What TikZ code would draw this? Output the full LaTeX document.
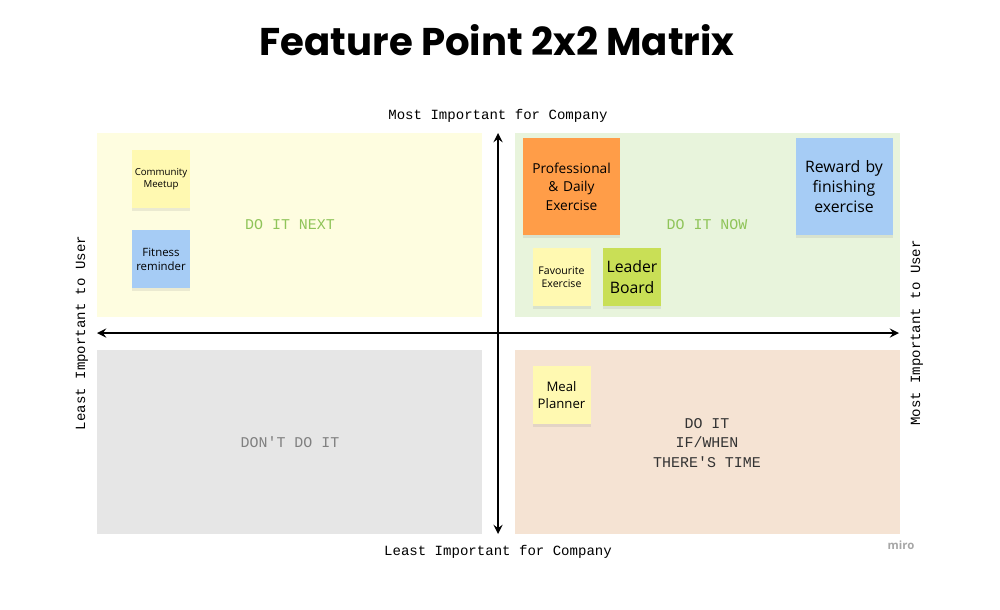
\documentclass[tikz,border=0pt]{standalone}
\usepackage{fontspec}
\setmainfont{Open Sans}
\newfontfamily\titlefont{Poppins}
\newfontfamily\monofont{Liberation Mono}
\usetikzlibrary{shadows}
\definecolor{qyellow}{HTML}{FEFDE0}
\definecolor{qgreen}{HTML}{E8F4DC}
\definecolor{qgray}{HTML}{E6E6E6}
\definecolor{qpeach}{HTML}{F5E3D3}
\definecolor{syellow}{HTML}{FFF9B1}
\definecolor{sblue}{HTML}{A6CCF5}
\definecolor{sorange}{HTML}{FF9D48}
\definecolor{sgreen}{HTML}{C9DF56}
\definecolor{lgreen}{HTML}{8FC459}
\begin{document}
\begin{tikzpicture}[x=0.02cm, y=-0.02cm,
  quad/.style={draw=none, minimum width=385*0.02cm, minimum height=184*0.02cm, inner sep=0},
  sticky/.style={minimum size=58*0.02cm, inner sep=1pt, align=center, text width=54*0.02cm,
    drop shadow={opacity=0.15, shadow xshift=0pt, shadow yshift=-1.5pt}},
  bigsticky/.style={sticky, minimum size=97*0.02cm, text width=90*0.02cm},
  axislabel/.style={font=\monofont\fontsize{8}{10}\selectfont},
  quadlabel/.style={font=\monofont\fontsize{8.5}{11}\selectfont, align=center}]
\useasboundingbox (0,0) rectangle (1000,609);
\node (title) at (497,40) {\titlefont\fontsize{22}{26}\selectfont\bfseries Feature Point 2x2 Matrix};

% quadrants
\node (next) [quad, fill=qyellow] at (289.5,225) {};
\node (now) [quad, fill=qgreen] at (707,225) {};
\node (dont) [quad, fill=qgray] at (289.5,442) {};
\node (time) [quad, fill=qpeach] at (707,442) {};
\node (next_label) [quadlabel, text=lgreen] at (290,225) {DO IT NEXT};
\node (now_label) [quadlabel, text=lgreen] at (707,225) {DO IT NOW};
\node (dont_label) [quadlabel, text=gray] at (290,442) {DON'T DO IT};
\node (time_label) [quadlabel, text=black!80] at (707,443) {DO IT\\IF/WHEN\\THERE'S TIME};

% axes
\coordinate (left) at (97,333);
\coordinate (right) at (899,333);
\coordinate (top) at (498,133);
\coordinate (bottom) at (498,534);
\draw[<->, >=stealth, line width=1.3pt] (left) -- (right);
\draw[<->, >=stealth, line width=1.3pt] (top) -- (bottom);
\node (most_company) [axislabel] at (498,116) {Most Important for Company};
\node (least_company) [axislabel] at (498,552) {Least Important for Company};
\node (least_user) [axislabel, rotate=90] at (82,333) {Least Important to User};
\node (most_user) [axislabel, rotate=90] at (917,333) {Most Important to User};

% stickies
\node (meetup) [sticky, fill=syellow, font=\fontsize{5.5}{7}\selectfont] at (161,179) {Community Meetup};
\node (fitness) [sticky, fill=sblue, font=\fontsize{6.5}{8}\selectfont] at (161,259) {Fitness reminder};
\node (daily) [bigsticky, fill=sorange, font=\fontsize{7.8}{10.5}\selectfont] at (571.5,186.5) {Professional \& Daily Exercise};
\node (reward) [bigsticky, fill=sblue, font=\fontsize{9}{11.5}\selectfont] at (844,186.5) {Reward by finishing exercise};
\node (favourite) [sticky, fill=syellow, font=\fontsize{6}{7.5}\selectfont] at (561.5,277) {Favourite Exercise};
\node (leader) [sticky, fill=sgreen, font=\fontsize{9}{11.5}\selectfont] at (632,277) {Leader Board};
\node (meal) [sticky, fill=syellow, font=\fontsize{7.5}{9.5}\selectfont] at (561.5,395) {Meal Planner};

\node (miro) [text=gray!70, font=\bfseries\fontsize{6.5}{8}\selectfont] at (901,545) {miro};
\end{tikzpicture}
\end{document}
